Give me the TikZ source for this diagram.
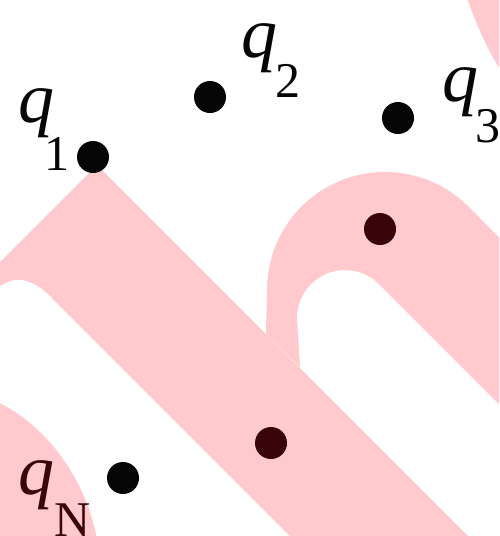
\documentclass[tikz,border=0pt]{standalone}
\usepackage{fontspec}
\setmainfont{Liberation Serif}
\definecolor{wm}{RGB}{255,201,205}
\definecolor{maroon}{RGB}{58,4,10}
\definecolor{ink}{RGB}{6,6,6}
\newcommand\qlab[3]{{\fontsize{72}{72}\selectfont\itshape q}\kern#1pt\raisebox{-#2pt}{\fontsize{50}{50}\selectfont #3}}
\tikzset{
  pinkarea/.style={fill=wm, draw=none},
  dotb/.style={circle, fill=ink, minimum size=32pt, inner sep=0pt},
  dotm/.style={circle, fill=maroon, minimum size=32pt, inner sep=0pt},
  lab/.style={anchor=base west, inner sep=0pt, outer sep=0pt}
}
\begin{document}
\begin{tikzpicture}[x=1pt, y=-1pt]
\useasboundingbox (0,0) rectangle (499,536);
\fill[white] (0,0) rectangle (499,536);
\begin{scope}
\clip (0,0) rectangle (499,536);
% main diagonal band
\fill[pinkarea] (97,165) -- (480,548) -- (302,548) -- (52,298)
   .. controls (40,285) and (25,278) .. (15,280)
   .. controls (8,281) and (2,284) .. (-3,289) -- (-10,289) -- (-10,272) -- cycle;
% arch
\fill[pinkarea] (266,334) -- (267,290) arc[start angle=180, end angle=315, radius=118]
   -- (548,287) -- (548,453) -- (378.9,284.1) arc[start angle=315, end angle=180, radius=48]
   -- (300,367) -- cycle;
% top-right corner
\fill[pinkarea] (466,-5) .. controls (473,15) and (484,45) .. (502,72) -- (510,72) -- (510,-5) -- cycle;
% bottom-left corner
\fill[pinkarea] (-5,401) .. controls (45,423) and (88,480) .. (98,545) -- (-5,545) -- cycle;
\end{scope}
% dots
\node[dotb] (p1) at (93,157) {};
\node[dotb] (p2) at (210,97) {};
\node[dotb] (p3) at (398,118) {};
\node[dotm] (p4) at (380,229) {};
\node[dotm] (p5) at (271,443) {};
\node[dotb] (pN) at (123,478) {};
% labels
\node[lab, text=ink] (l1) at (19,122) {\qlab{-10.5}{48}{1}};
\node[lab, text=ink] (l2) at (241,57) {\qlab{-1.5}{40}{2}};
\node[lab, text=ink] (l3) at (442,101) {\qlab{-3}{41}{3}};
\node[lab, text=maroon] (lN) at (19,494) {\qlab{-0.5}{42}{N}};
\end{tikzpicture}
\end{document}
